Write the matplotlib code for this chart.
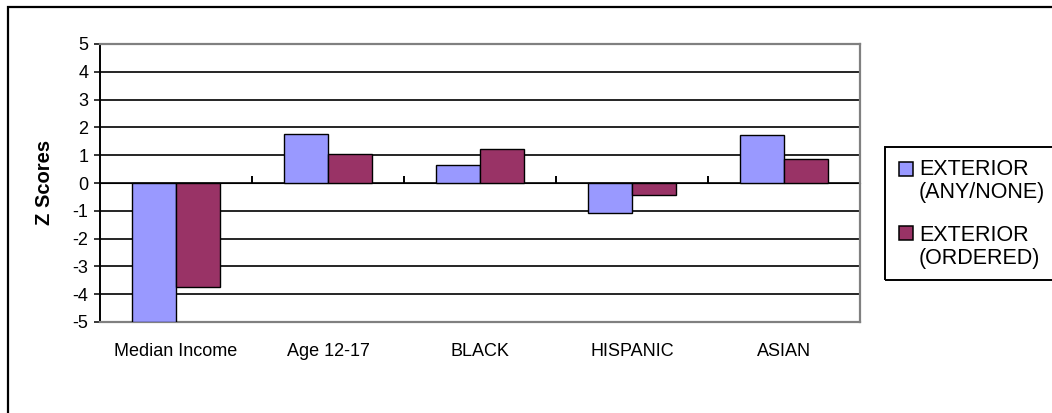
import matplotlib.pyplot as plt
from matplotlib.patches import Rectangle
import numpy as np

categories = ["Median Income", "Age 12-17", "BLACK", "HISPANIC", "ASIAN"]
any_none = [-5.0, 1.78, 0.64, -1.08, 1.72]
ordered = [-3.75, 1.06, 1.22, -0.43, 0.85]
series_labels = ["EXTERIOR\n(ANY/NONE)", "EXTERIOR\n(ORDERED)"]
series_colors = ["#9999FF", "#993366"]
y_ticks = list(range(-5, 6))

W, H = 1052, 413
plt.rcParams['font.family'] = ['Liberation Sans', 'DejaVu Sans']


def fx(px):
    return px / W


def fy(py):
    return 1 - py / H


fig = plt.figure(figsize=(W / 100, H / 100), dpi=100)

# outer chart frame (runs off the right and bottom edges)
fig.add_artist(Rectangle((fx(8), fy(430)), fx(1060), 423 / H, fill=False,
                         edgecolor="black", linewidth=1.6, transform=fig.transFigure))

ax = fig.add_axes([fx(100), fy(322), 760 / W, 278 / H])
x = np.arange(len(categories))
bw = 0.29
ax.bar(x - bw / 2, any_none, bw, color=series_colors[0], edgecolor="black",
       linewidth=1.0, zorder=3)
ax.bar(x + bw / 2, ordered, bw, color=series_colors[1], edgecolor="black",
       linewidth=1.0, zorder=3)

ax.set_xlim(-0.5, len(categories) - 0.5)
ax.set_ylim(-5, 5)
ax.set_yticks(y_ticks)
ax.set_yticklabels([str(v) for v in y_ticks], fontsize=13)
ax.yaxis.grid(True, color="black", linewidth=1.2, zorder=0)
ax.set_axisbelow(True)
ax.tick_params(axis="y", direction="out", length=4.5, width=1.1, pad=4)

ax.set_xticks(x)
ax.set_xticklabels(categories, fontsize=13)
ax.tick_params(axis="x", length=0, pad=15)

for side in ["top", "right", "bottom"]:
    ax.spines[side].set_color("#808080")
    ax.spines[side].set_linewidth(1.6)
ax.spines["left"].set_color("black")
ax.spines["left"].set_linewidth(1.4)

# category axis crossing at zero, with ticks between groups
zero_axis = ax.secondary_xaxis(0.5)
zero_axis.set_xticks(np.arange(0.5, len(categories), 1.0))
zero_axis.set_xticklabels([])
zero_axis.tick_params(direction="out", length=5, width=1.4, color="black")
zero_axis.spines["bottom"].set_color("black")
zero_axis.spines["bottom"].set_linewidth(1.4)

fig.text(fx(44), fy(182), "Z Scores", rotation=90, fontsize=14.5,
         fontweight="bold", ha="center", va="center")

# legend key
fig.add_artist(Rectangle((fx(885), fy(280)), fx(200), 133 / H, fill=False,
                         edgecolor="black", linewidth=1.4, transform=fig.transFigure))
for i, (label, color) in enumerate(zip(series_labels, series_colors)):
    top = 162 + 64 * i
    fig.add_artist(Rectangle((fx(899), fy(top + 14)), 14 / W, 14 / H,
                             facecolor=color, edgecolor="black", linewidth=1.1,
                             transform=fig.transFigure))
    for j, line in enumerate(label.split("\n")):
        fig.text(fx(919), fy(175 + 66 * i + 23 * j), line, fontsize=15.5,
                 ha="left", va="baseline")

fig.savefig("out.png", dpi=100)
